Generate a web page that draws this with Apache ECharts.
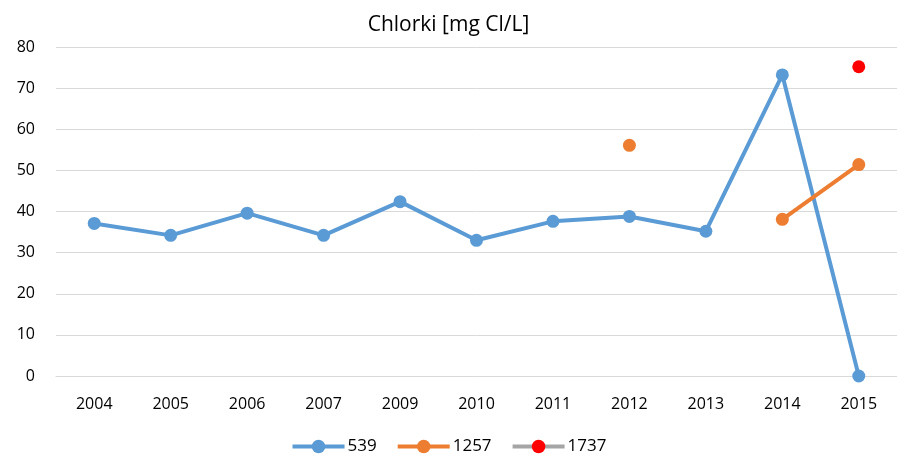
<!DOCTYPE html>
<html>
<head>
<meta charset="utf-8">
<script src="https://cdn.jsdelivr.net/npm/echarts@6/dist/echarts.min.js"></script>
<style>
  html, body { margin: 0; padding: 0; background: #fff; }
  #chart { width: 897px; height: 456px; }
</style>
</head>
<body>
<div id="chart"></div>
<script>
// Chloride concentration by year at three measuring points
const years = ['2004', '2005', '2006', '2007', '2009', '2010', '2011', '2012', '2013', '2014', '2015'];
const p539  = [37.1, 34.2, 39.6, 34.2, 42.4, 33.0, 37.6, 38.8, 35.2, 73.2, 0];
const p1257 = [null, null, null, null, null, null, null, 56.1, null, 38.1, 51.4];
const p1737 = [null, null, null, null, null, null, null, null, null, null, 75.2];
const yTicks = { min: 0, max: 80, interval: 10 };

const font = '"Open Sans", "Liberation Sans", sans-serif';
const chart = echarts.init(document.getElementById('chart'));

function lineSeries(name, data, lineColor, markColor) {
  return {
    name: name,
    type: 'line',
    data: data,
    symbol: 'circle',
    symbolSize: 13,
    connectNulls: false,
    lineStyle: { color: lineColor, width: 4 },
    itemStyle: { color: markColor },
    emphasis: { disabled: true },
    animation: false
  };
}

chart.setOption({
  animation: false,
  title: {
    text: 'Chlorki [mg Cl/L]',
    left: 'center',
    top: 10,
    textStyle: { fontFamily: font, fontSize: 21, fontWeight: 'normal', color: '#000' }
  },
  legend: {
    bottom: 1,
    left: 'center',
    padding: 0,
    itemWidth: 52,
    itemHeight: 17,
    itemGap: 19,
    lineStyle: { width: 4 },
    textStyle: { fontFamily: font, fontSize: 17, color: '#000', padding: [0, 0, 0, -2] },
    data: ['539', '1257', '1737']
  },
  grid: { left: 56, top: 47, width: 847, bottom: 80, containLabel: false },
  xAxis: {
    type: 'category',
    data: years,
    boundaryGap: true,
    axisLine: { show: true, lineStyle: { color: '#d9d9d9' } },
    axisTick: { show: false },
    axisLabel: { fontFamily: font, fontSize: 16, color: '#000', margin: 20 }
  },
  yAxis: {
    type: 'value',
    min: yTicks.min,
    max: yTicks.max,
    interval: yTicks.interval,
    axisLine: { show: false },
    axisTick: { show: false },
    axisLabel: { fontFamily: font, fontSize: 16, color: '#000', margin: 21 },
    splitLine: { lineStyle: { color: '#d9d9d9', width: 1 } }
  },
  series: [
    lineSeries('539', p539, '#5b9bd5', '#5b9bd5'),
    lineSeries('1257', p1257, '#ed7d31', '#ed7d31'),
    lineSeries('1737', p1737, '#a5a5a5', '#ff0000')
  ]
});
</script>
</body>
</html>
